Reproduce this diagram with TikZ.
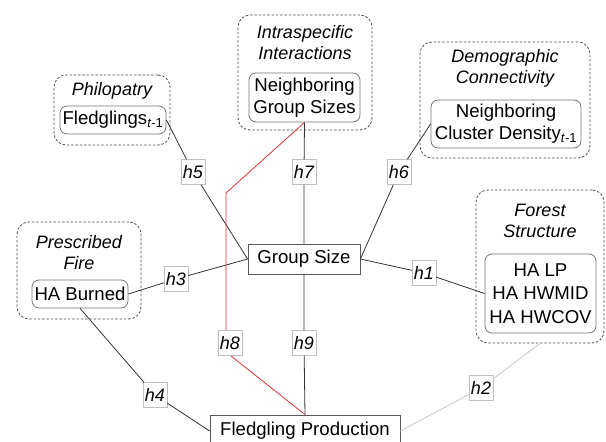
\documentclass[tikz,border=0pt]{standalone}
\usepackage{fontspec}
\setmainfont{Liberation Sans}
\definecolor{redline}{RGB}{222,50,50}
\definecolor{lightline}{RGB}{200,200,200}
\begin{document}
\begin{tikzpicture}[x=1pt,y=-1pt,
  every node/.style={font=\fontsize{18.6}{22}\selectfont, inner sep=0pt},
  outerbox/.style={draw=black!70, dash pattern=on 2.5pt off 1.8pt, rounded corners=12pt, line width=0.8pt},
  innerbox/.style={draw=black!55, rounded corners=7pt, line width=0.8pt, align=center},
  mainbox/.style={draw=black!65, line width=0.8pt, fill=white},
  title/.style={font=\fontsize{18}{21}\selectfont\itshape, align=center},
  hl/.style={draw=black!25, fill=white, font=\fontsize{18}{21}\selectfont\itshape, minimum width=24pt, minimum height=25pt},
  conn/.style={draw=black!80, line width=0.8pt}]
\useasboundingbox (0,0) rectangle (606,442);
\clip (0,0) rectangle (606,442);
% outer dashed groups
\node[outerbox, minimum width=116pt, minimum height=70pt] (philo) at (112,110) {};
\node[outerbox, minimum width=134pt, minimum height=115pt] (intra) at (305,72.5) {};
\node[outerbox, minimum width=170pt, minimum height=116pt] (demo) at (505,100) {};
\node[outerbox, minimum width=128pt, minimum height=153pt] (forest) at (540,266.5) {};
\node[outerbox, minimum width=124pt, minimum height=97pt] (fire) at (79,270.5) {};
% titles
\node[title] (tphilo) at (112,91) {Philopatry};
\node[title] (tintra) at (305,43) {Intraspecific\\Interactions};
\node[title] (tdemo) at (505,68.5) {Demographic\\Connectivity};
\node[title] (tforest) at (540,221) {Forest\\Structure};
\node[title] (tfire) at (79,252.5) {Prescribed\\Fire};
% inner boxes
\node[innerbox, minimum width=106pt, minimum height=28pt] (fledg) at (113,120) {Fledglings\textsubscript{\textit{t}-1}};
\node[innerbox, minimum width=111pt, minimum height=49pt] (ngs) at (304.5,97.5) {Neighboring\\Group Sizes};
\node[innerbox, minimum width=150pt, minimum height=48pt] (ncd) at (506,124) {Neighboring\\Cluster Density\textsubscript{\textit{t}-1}};
\node[innerbox, minimum width=111pt, minimum height=79pt, font=\fontsize{18.6}{23.5}\selectfont] (fs) at (540.5,293.5) {HA LP\\HA HWMID\\HA HWCOV};
\node[innerbox, minimum width=96pt, minimum height=28pt] (burn) at (80,294) {HA Burned};
% main boxes
\node[mainbox, minimum width=112pt, minimum height=30pt] (gs) at (304,259) {Group Size};
\node[mainbox, minimum width=190pt, minimum height=32pt] (fp) at (305,431) {Fledgling Production};
% hypothesis labels
\node[hl] (h5) at (193,172) {h5};
\node[hl] (h7) at (304,172) {h7};
\node[hl] (h6) at (399,172) {h6};
\node[hl] (h3) at (176,279) {h3};
\node[hl] (h1) at (424,273) {h1};
\node[hl] (h9) at (304,343) {h9};
\node[hl] (h4) at (155,395) {h4};
\node[hl] (h2) at (481,388) {h2};
% connectors
\draw[conn] (fledg.east) -- (h5) -- (gs.west);
\draw[conn] (ngs.south) -- (h7) -- (gs.north);
\draw[conn] (ncd.west) -- (h6) -- (gs.east);
\draw[conn] (burn.east) -- (h3) -- (gs.west);
\draw[conn] (gs.east) -- (h1) -- (fs.west);
\draw[conn] (gs.south) -- (h9) -- (fp.north);
\draw[conn] (burn.south) -- (h4) -- (fp.west);
\draw[draw=lightline, line width=0.8pt] (forest.south) -- (h2) -- (fp.east);
\coordinate (r1) at (226,193);
\coordinate (r2) at (226,352);
\draw[draw=redline, line width=0.8pt] (ngs.south) -- (r1) -- (r2) -- (fp.north);
\node[hl] (h8) at (230,343) {h8};
\end{tikzpicture}
\end{document}
